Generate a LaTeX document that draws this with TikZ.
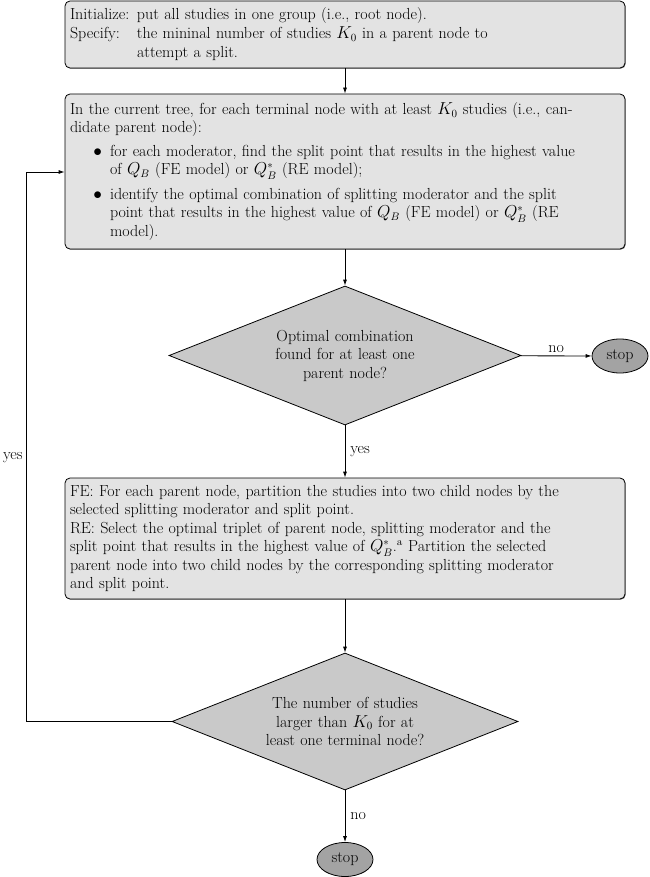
\documentclass[tikz,border=0pt]{standalone}
\usetikzlibrary{shapes.geometric,arrows.meta,shadows}
\definecolor{boxfill}{gray}{0.89}
\definecolor{diafill}{gray}{0.79}
\definecolor{stopfill}{gray}{0.64}
\tikzset{
  procbox/.style={draw=black, line width=0.8pt, fill=boxfill, rounded corners=5pt,
    minimum width=560pt, text width=550pt, inner sep=5pt, align=left,
    drop shadow={shadow xshift=0.7pt, shadow yshift=-0.7pt, opacity=0.7, fill=black!80}},
  decision/.style={draw=black, line width=0.8pt, fill=diafill, diamond, aspect=2.5,
    inner sep=0pt, text width=190pt, align=center},
  stopnode/.style={draw=black, line width=0.8pt, fill=stopfill, ellipse,
    minimum width=56pt, minimum height=34pt, inner sep=0pt},
  conn/.style={line width=0.8pt, -{Latex[length=6pt,width=4pt]}},
  lbl/.style={inner sep=3pt}
}
\begin{document}
\begin{tikzpicture}[x=1pt,y=-1pt, every node/.append style={font=\fontsize{16}{18.5}\selectfont}]
\useasboundingbox (0,0) rectangle (649,877);

\node[procbox, minimum height=67pt] (init) at (345,34.5) {%
\makebox[67pt][l]{Initialize:}put all studies in one group (i.e., root node).\\[0.5pt]
\makebox[67pt][l]{Specify:}the mininal number of studies $K_0$ in a parent node to\\[0.5pt]
\hspace*{67pt}attempt a split.};

\node[procbox, minimum height=155pt] (cur) at (345,171.5) {%
In the current tree, for each terminal node with at least $K_0$ studies (i.e., can-\\
didate parent node):\\[5pt]
\hspace*{40pt}\llap{$\bullet$\hspace{8pt}}for each moderator, find the split point that results in the highest value\\
\hspace*{40pt}of $Q_B$ (FE model) or $Q_B^*$ (RE model);\\[6pt]
\hspace*{40pt}\llap{$\bullet$\hspace{8pt}}identify the optimal combination of splitting moderator and the split\\
\hspace*{40pt}point that results in the highest value of $Q_B$ (FE model) or $Q_B^*$ (RE\\
\hspace*{40pt}model).};

\node[decision, minimum width=352pt, minimum height=139pt] (d1) at (345,355.5) {%
Optimal combination\\ found for at least one\\ parent node?};

\node[stopnode] (stop1) at (620,356) {stop};

\node[procbox, minimum height=121pt] (part) at (345,538.5) {%
FE: For each parent node, partition the studies into two child nodes by the\\
selected splitting moderator and split point.\\
RE: Select the optimal triplet of parent node, splitting moderator and the\\
split point that results in the highest value of $Q_B^*$.$^{\mathrm{a}}$ Partition the selected\\
parent node into two child nodes by the corresponding splitting moderator\\
and split point.};

\node[decision, minimum width=346pt, minimum height=137pt] (d2) at (345,721.5) {%
The number of studies\\ larger than $K_0$ for at\\ least one terminal node?};

\node[stopnode] (stop2) at (345,859.5) {stop};

\coordinate (lb) at (26,721.5);
\coordinate (lt) at (26,172);

\draw[conn] (init) -- (cur);
\draw[conn] (cur) -- (d1);
\draw[conn] (d1) -- node[lbl, above] {no} (stop1);
\draw[conn] (d1) -- node[lbl, right, xshift=2pt] {yes} (part);
\draw[conn] (part) -- (d2);
\draw[conn] (d2) -- node[lbl, right, xshift=2pt] {no} (stop2);
\draw[conn] (d2.west) -- (lb) -- node[lbl, left, pos=0.481] {yes} (lt) -- (lt -| cur.west);
\end{tikzpicture}
\end{document}
